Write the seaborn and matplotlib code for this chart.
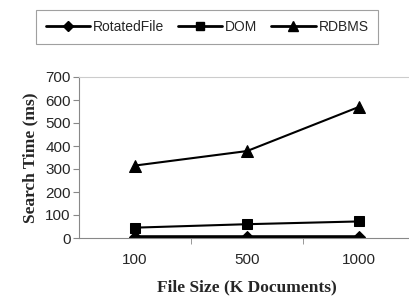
import matplotlib
matplotlib.use("Agg")
import matplotlib.pyplot as plt
import seaborn as sns
import pandas as pd
from matplotlib.ticker import FixedLocator
from matplotlib.lines import Line2D

categories = ["100", "500", "1000"]
series_names = ["RotatedFile", "DOM", "RDBMS"]
rotated = [5, 5, 5]
dom = [45, 60, 72]
rdbms = [315, 378, 570]

df = pd.DataFrame({
    "x": list(range(3)) * 3,
    "y": rotated + dom + rdbms,
    "series": ["RotatedFile"] * 3 + ["DOM"] * 3 + ["RDBMS"] * 3,
})

sns.set_style("white")
plt.rcParams['font.family'] = ['Liberation Sans', 'DejaVu Sans']

fig = plt.figure(figsize=(4.09, 3.01), dpi=100)
ax = fig.add_axes([79/409, 1-238/301, 336/409, (238-77)/301])

styles = {"RotatedFile": ("D", 2.6, 6.5), "DOM": ("s", 1.5, 7.5), "RDBMS": ("^", 1.5, 8.5)}
for name in series_names:
    m, lw, ms = styles[name]
    sub = df[df.series == name]
    sns.lineplot(data=sub, x="x", y="y", ax=ax, color="black", marker=m,
                 linewidth=lw, markersize=ms, markeredgecolor="black", legend=False)

ax.set_xlim(-0.5, 2.5)
ax.set_ylim(0, 700)
ax.set_yticks(range(0, 701, 100))
ax.set_xticks(range(3))
ax.set_xticklabels(categories)
ax.xaxis.set_minor_locator(FixedLocator([0.5, 1.5]))
ax.tick_params(axis="x", which="major", length=0, labelsize=11, pad=11)
ax.tick_params(axis="x", which="minor", length=4, direction="out", color="#888888", bottom=True)
ax.tick_params(axis="y", length=4, direction="out", color="#888888", labelsize=11, left=True, pad=2)
ax.spines["right"].set_visible(False)
ax.spines["top"].set_color("#cccccc")
ax.spines["left"].set_color("#888888")
ax.spines["bottom"].set_color("#888888")
for s in ["top", "left", "bottom"]:
    ax.spines[s].set_linewidth(0.8)

ax.set_xlabel("File Size (K Documents)", fontfamily="Liberation Serif", fontweight="bold", fontsize=12.5, labelpad=9)
ax.set_ylabel("Search Time (ms)", fontfamily="Liberation Serif", fontweight="bold", fontsize=12.5, labelpad=5)

leg_ms = {"RotatedFile": 5.5, "DOM": 6, "RDBMS": 6.5}
handles = [Line2D([], [], color="black", marker=styles[n][0], linewidth=2.0,
                  markersize=leg_ms[n]) for n in series_names]
leg = fig.legend(handles, series_names, loc="center", bbox_to_anchor=(207/409, 1-27/301), ncol=3, frameon=True,
                 fancybox=False, edgecolor="#888888", fontsize=10, handlelength=3.2,
                 columnspacing=1.0, handletextpad=0.2, borderpad=0.7)
leg.get_frame().set_linewidth(0.8)

fig.savefig("out.png", dpi=100)
